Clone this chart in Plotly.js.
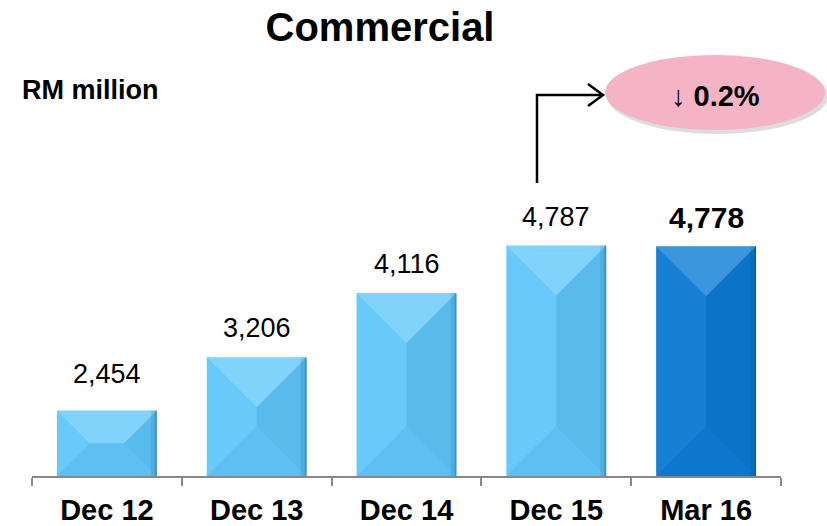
<!DOCTYPE html>
<html>
<head>
<meta charset="utf-8">
<script src="https://cdn.plot.ly/plotly-3.0.1.min.js"></script>
<style>html,body{margin:0;padding:0;background:#fff;}#chart{width:827px;height:526px;}</style>
</head>
<body>
<div id="chart"></div>
<script>
// ---- data ----
const categories = ['Dec 12', 'Dec 13', 'Dec 14', 'Dec 15', 'Mar 16'];
const values = [2454, 3206, 4116, 4787, 4778];
const valueLabels = ['2,454', '3,206', '4,116', '4,787', '4,778'];
const chartTitle = 'Commercial';
const unitLabel = 'RM million';
const changeLabel = '\u2193 0.2%';

// ---- layout geometry ----
const W = 827, H = 526;
const M = {l: 32, r: 46, t: 0, b: 50};
const plotW = W - M.l - M.r, plotH = H - M.t - M.b;
const yRange = [1528, 8259];
const pxPerUnitY = plotH / (yRange[1] - yRange[0]);
const pxPerCat = plotW / categories.length;
const bargap = 0.333;
const halfW = (1 - bargap) / 2;
const FONT = 'Liberation Sans, Arial, Helvetica, sans-serif';

const px2x = p => (p - M.l) / plotW;
const px2y = p => (H - M.b - p) / plotH;

const lightBar = '#62C8FA', darkBar = '#0D7CD2';
const barColors = categories.map((c, i) => i === categories.length - 1 ? darkBar : lightBar);

// ---- bevel facets (computed from data through axis scales) ----
const shapes = [];
values.forEach((v, i) => {
  const x0 = i - halfW, x1 = i + halfW, top = v, bot = yRange[0];
  const wPx = 2 * halfW * pxPerCat, hPx = (top - bot) * pxPerUnitY;
  const d = Math.min(wPx, hPx) / 2;
  const dx = d / pxPerCat, dy = d / pxPerUnitY;
  const A = [x0 + dx, top - dy], B = [x1 - dx, top - dy], C = [x1 - dx, bot + dy], D = [x0 + dx, bot + dy];
  const TL = [x0, top], TR = [x1, top], BR = [x1, bot], BL = [x0, bot];
  const poly = pts => 'M ' + pts.map(p => p[0] + ',' + p[1]).join(' L ') + ' Z';
  const facets = [
    [[TL, TR, B, A], 'rgba(255,255,255,0.20)'],
    [[TR, BR, C, B], 'rgba(0,40,100,0.09)'],
    [[BR, BL, D, C], 'rgba(0,40,100,0.05)'],
    [[BL, TL, A, D], 'rgba(255,255,255,0.04)']
  ];
  facets.forEach(f => shapes.push({type: 'path', xref: 'x', yref: 'y', path: poly(f[0]),
    fillcolor: f[1], line: {width: 0}, layer: 'above'}));
  // soft right edge shade
  shapes.push({type: 'rect', xref: 'x', yref: 'y', x0: x1 - 6 / pxPerCat, x1: x1, y0: bot, y1: top,
    fillcolor: 'rgba(0,50,110,0.10)', line: {width: 0}, layer: 'above'});
  shapes.push({type: 'rect', xref: 'x', yref: 'y', x0: x1 - 2 / pxPerCat, x1: x1, y0: bot, y1: top,
    fillcolor: 'rgba(0,50,110,0.20)', line: {width: 0}, layer: 'above'});
});

// ellipse with shadow
shapes.push({type: 'circle', xref: 'paper', yref: 'paper', x0: px2x(607), x1: px2x(828), y0: px2y(134), y1: px2y(58),
  fillcolor: 'rgba(120,120,120,0.25)', line: {width: 0}});
shapes.push({type: 'circle', xref: 'paper', yref: 'paper', x0: px2x(605), x1: px2x(825), y0: px2y(130), y1: px2y(55),
  fillcolor: '#F5B4C5', line: {width: 0}});
// elbow arrow
shapes.push({type: 'path', xref: 'paper', yref: 'paper',
  path: `M ${px2x(537)},${px2y(183)} L ${px2x(537)},${px2y(95)} L ${px2x(602)},${px2y(95)}`,
  line: {color: '#000', width: 2.5}});
shapes.push({type: 'path', xref: 'paper', yref: 'paper',
  path: `M ${px2x(588)},${px2y(84)} L ${px2x(603)},${px2y(95)} L ${px2x(588)},${px2y(106)}`,
  line: {color: '#000', width: 2.5}});

// ---- annotations ----
const annotations = values.map((v, i) => {
  const last = i === values.length - 1;
  return {x: categories[i], y: v, xref: 'x', yref: 'y', text: valueLabels[i], showarrow: false,
    yanchor: 'middle', yshift: i === 0 ? 37 : 29,
    font: {family: FONT, size: last ? 30 : 27, color: '#000', weight: last ? 'bold' : 'normal'}};
});
annotations.push({x: px2x(20), y: px2y(90), xref: 'paper', yref: 'paper', xanchor: 'left', yanchor: 'middle',
  text: unitLabel, showarrow: false, font: {family: FONT, size: 27, color: '#000', weight: 'bold'}});
annotations.push({x: px2x(715), y: px2y(96), xref: 'paper', yref: 'paper', xanchor: 'center', yanchor: 'middle',
  text: changeLabel, showarrow: false, font: {family: FONT, size: 29, color: '#000', weight: 'bold'}});

const trace = {type: 'bar', x: categories, y: values, marker: {color: barColors, line: {width: 0}},
  hoverinfo: 'none', cliponaxis: true};

const layout = {
  width: W, height: H, margin: M, paper_bgcolor: '#fff', plot_bgcolor: '#fff',
  showlegend: false, bargap: bargap,
  title: {text: chartTitle, x: 380 / W, xanchor: 'center', y: 1 - 27 / H, yanchor: 'middle',
    font: {family: FONT, size: 40, color: '#000', weight: 'bold'}},
  xaxis: {type: 'category', range: [-0.5, categories.length - 0.5], showline: true, linecolor: '#888', linewidth: 2,
    ticks: 'outside', tickson: 'boundaries', ticklen: 8, tickwidth: 2, tickcolor: '#888', showgrid: false,
    zeroline: false, tickfont: {family: FONT, size: 29, color: '#000', weight: 'bold'}, ticklabelstandoff: 7, fixedrange: true},
  yaxis: {range: yRange, visible: false, showgrid: false, zeroline: false, fixedrange: true},
  shapes: shapes, annotations: annotations
};

Plotly.newPlot('chart', [trace], layout, {staticPlot: true, displayModeBar: false});
</script>
</body>
</html>
